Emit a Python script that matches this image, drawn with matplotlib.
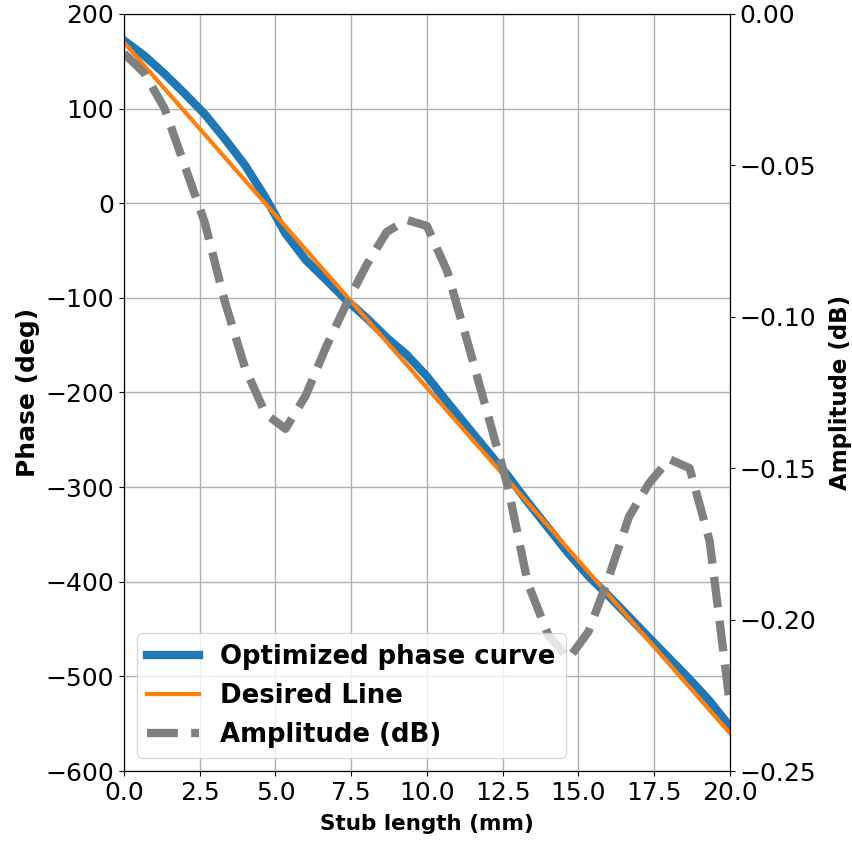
import numpy as np
import matplotlib
matplotlib.use('Agg')
import matplotlib.pyplot as plt

# Stub length samples (mm)
stub_length = [0.0, 0.67, 1.33, 2.0, 2.67, 3.33, 4.0, 4.67, 5.33, 6.0,
               6.67, 7.33, 8.0, 8.67, 9.33, 10.0, 10.67, 11.33, 12.0, 12.67,
               13.33, 14.0, 14.67, 15.33, 16.0, 16.67, 17.33, 18.0, 18.67, 19.33,
               20.0]

# Optimized phase (deg)
phase_opt = [172, 156, 137, 116, 94, 68, 40, 6, -32, -60,
             -81, -102, -121, -142, -160, -183, -210, -236, -262, -288,
             -316, -343, -370, -394, -415, -437, -459, -481, -503, -526,
             -553]

# Desired line end points
desired_x = [0.0, 20.0]
desired_phase = [170, -560]

# Amplitude (dB)
amplitude = [-0.013, -0.0195, -0.031, -0.050, -0.069, -0.095, -0.117, -0.132, -0.137, -0.126,
             -0.110, -0.096, -0.083, -0.072, -0.068, -0.070, -0.085, -0.108, -0.132, -0.156,
             -0.188, -0.205, -0.213, -0.204, -0.186, -0.166, -0.155, -0.147, -0.150, -0.174,
             -0.228]


def main():
    fig = plt.figure(figsize=(8.52, 8.41), dpi=100)
    ax1 = fig.add_axes([0.1455, 0.0832, 0.7112, 0.9002])

    l1, = ax1.plot(stub_length, phase_opt, color='tab:blue', lw=6,
                   label='Optimized phase curve')
    l2, = ax1.plot(desired_x, desired_phase, color='tab:orange', lw=3,
                   label='Desired Line')
    ax1.set_xlim(0, 20)
    ax1.set_ylim(-600, 200)
    ax1.set_xticks(np.arange(0, 20.1, 2.5))
    ax1.set_xlabel('Stub length (mm)', fontsize=15.5, fontweight='bold', labelpad=7)
    ax1.set_ylabel('Phase (deg)', fontsize=18, fontweight='bold')
    ax1.tick_params(labelsize=18)
    ax1.grid(True, color='#b0b0b0', lw=1)

    ax2 = ax1.twinx()
    l3, = ax2.plot(stub_length, amplitude, color='gray', lw=6, ls='--',
                   label='Amplitude (dB)')
    ax2.set_ylim(-0.25, 0.0)
    ax2.set_yticks([0.0, -0.05, -0.10, -0.15, -0.20, -0.25])
    ax2.set_ylabel('Amplitude (dB)', fontsize=16.5, fontweight='bold', labelpad=9)
    ax2.tick_params(labelsize=18)

    ax2.legend(handles=[l1, l2, l3], loc='lower left',
               prop={'size': 18.7, 'weight': 'bold'})

    fig.savefig('out.png', dpi=100)


if __name__ == '__main__':
    main()
